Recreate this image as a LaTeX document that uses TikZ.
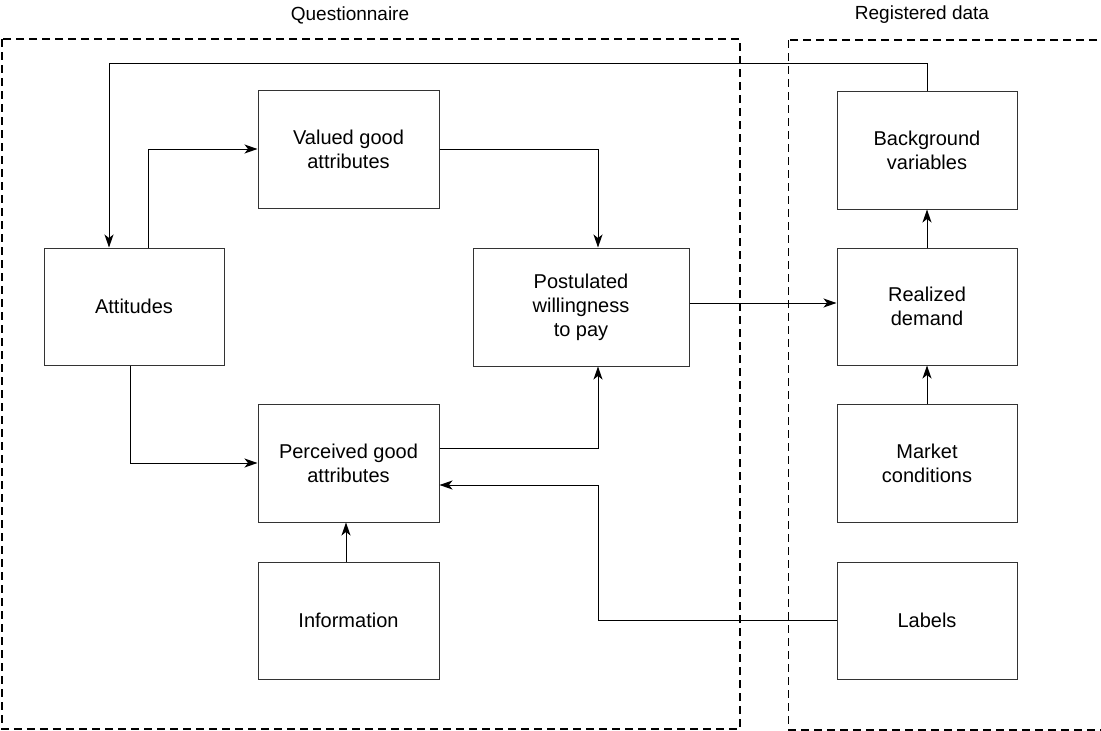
\documentclass[tikz,border=0pt]{standalone}
\usepackage{fontspec}
\setmainfont{Liberation Sans}
\usetikzlibrary{arrows.meta}
\begin{document}
\begin{tikzpicture}[x=1pt,y=-1pt,
  box/.style={draw=black!80, line width=1pt, rectangle, minimum width=181pt, minimum height=118pt,
    align=center, inner sep=2pt, font=\fontsize{20}{24}\selectfont},
  conn/.style={draw=black, line width=1pt},
  arr/.style={conn, -{Stealth[length=13pt,width=9pt,inset=3.5pt]}},
  region/.style={draw=black, line width=2pt, dash pattern=on 8pt off 5pt},
  thinregion/.style={draw=black, line width=1pt, dash pattern=on 8pt off 5pt},
  title/.style={font=\fontsize{19}{22}\selectfont, inner sep=0pt}]
\useasboundingbox (0,0) rectangle (1101,731);
% regions
\draw[region] (2,39) rectangle (740,729);
\draw[region] (1110,40) -- (788,40);
\draw[thinregion] (788,40) -- (788,730);
\draw[region] (788,730) -- (1110,730);
\node[title] (tq) at (350,15) {Questionnaire};
\node[title] (tr) at (922,15) {Registered data};
% boxes
\node[box] (val) at (348.5,149) {Valued good\\attributes};
\node[box, minimum width=180pt, minimum height=117pt] (att) at (134,306.5) {Attitudes};
\node[box, minimum width=216pt] (post) at (581,307) {Postulated\\willingness\\to pay};
\node[box] (perc) at (348.5,463) {Perceived good\\attributes};
\node[box, minimum height=117pt] (info) at (348.5,620.5) {Information};
\node[box, minimum width=180pt] (bg) at (927,150) {Background\\variables};
\node[box, minimum width=180pt, minimum height=117pt] (real) at (927,306.5) {Realized\\demand};
\node[box, minimum width=180pt] (mkt) at (927,463) {Market\\conditions};
\node[box, minimum width=180pt, minimum height=117pt] (lab) at (927,620.5) {Labels};
% connectors
\coordinate (t1) at (109,63);
\draw[arr] (bg.north) |- (t1) -- (t1 |- att.north);
\draw[arr] ([xshift=14pt]att.north) |- (val.west);
\draw[arr] (val.east) -| ([xshift=17pt]post.north);
\draw[arr] ([xshift=-4pt]att.south) |- (perc.west);
\draw[arr] ([yshift=15pt]perc.east) -| ([xshift=17pt]post.south);
\draw[arr] ([xshift=-2.5pt]info.north) -- ([xshift=-2.5pt]perc.south);
\draw[arr] ([yshift=4pt]post.east) -- ([yshift=4pt]post.east -| real.west);
\draw[arr] (real.north) -- (bg.south);
\draw[arr] (mkt.north) -- (real.south);
\coordinate (c1) at (598,485);
\draw[arr] (lab.west) -| (c1) -- (c1 -| perc.east);
\end{tikzpicture}
\end{document}
